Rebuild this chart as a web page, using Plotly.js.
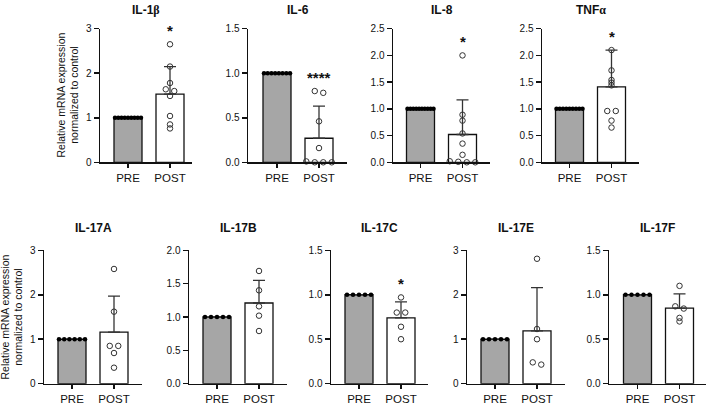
<!DOCTYPE html>
<html>
<head>
<meta charset="utf-8">
<script src="https://cdn.plot.ly/plotly-3.0.1.min.js"></script>
<style>
  html, body { margin: 0; padding: 0; background: #ffffff; }
  #chart { width: 708px; height: 404px; }
</style>
</head>
<body>
<div id="chart"></div>
<script>
// ---- data -----------------------------------------------------------
const groups = ['PRE', 'POST'];
const genes = ['IL-1β', 'IL-6', 'IL-8', 'TNFα', 'IL-17A', 'IL-17B', 'IL-17C', 'IL-17E', 'IL-17F'];

// PRE samples are the normalisation reference (all = 1)
const il1bPre  = [1, 1, 1, 1, 1, 1, 1, 1, 1];
const il6Pre   = [1, 1, 1, 1, 1, 1, 1, 1];
const il8Pre   = [1, 1, 1, 1, 1, 1, 1, 1, 1, 1];
const tnfaPre  = [1, 1, 1, 1, 1, 1, 1, 1, 1];
const il17aPre = [1, 1, 1, 1, 1, 1];
const il17bPre = [1, 1, 1, 1, 1];
const il17cPre = [1, 1, 1, 1, 1];
const il17ePre = [1, 1, 1, 1, 1];
const il17fPre = [1, 1, 1, 1, 1];

const il1bPost  = [2.65, 2.15, 1.78, 1.64, 1.60, 1.49, 1.04, 0.85, 0.76];
const il6Post   = [0.80, 0.78, 0.46, 0.16, 0.01, 0, 0, 0];
const il8Post   = [2.00, 0.89, 0.78, 0.54, 0.35, 0.14, 0.02, 0.01, 0, 0];
const tnfaPost  = [2.10, 1.72, 1.54, 1.49, 1.44, 0.96, 0.96, 0.78, 0.65];
const il17aPost = [2.58, 1.62, 0.85, 0.85, 0.69, 0.36];
const il17bPost = [1.69, 1.40, 1.16, 1.02, 0.79];
const il17cPost = [0.97, 0.80, 0.80, 0.64, 0.50];
const il17ePost = [2.81, 1.23, 1.00, 0.48, 0.43];
const il17fPost = [1.10, 0.87, 0.845, 0.74, 0.70];

const preMean  = [1, 1, 1, 1, 1, 1, 1, 1, 1];
const postMean = [1.53, 0.27, 0.52, 1.41, 1.16, 1.21, 0.74, 1.19, 0.85];
const postSd   = [0.62, 0.36, 0.65, 0.69, 0.81, 0.34, 0.18, 0.97, 0.16];

const significance = ['*', '****', '*', '*', '', '', '*', '', ''];

const yMax  = [3, 1.5, 2.5, 2.5, 3, 2, 1.5, 3, 1.5];
const yStep = [1, 0.5, 0.5, 0.5, 1, 0.5, 0.5, 1, 0.5];

const preSets  = [il1bPre, il6Pre, il8Pre, tnfaPre, il17aPre, il17bPre, il17cPre, il17ePre, il17fPre];
const postSets = [il1bPost, il6Post, il8Post, tnfaPost, il17aPost, il17bPost, il17cPost, il17ePost, il17fPost];

// ---- panel geometry (pixels) ----------------------------------------
const W = 708, H = 404;
const CAT_PX = 42;          // distance between PRE and POST centres
const boxes = [
  // left axis, PRE centre, right end, top, bottom
  { l: 100, c: 128,   r: 192, t: 28.7,  b: 162.3 },
  { l: 248, c: 277,   r: 347, t: 28.7,  b: 162.3 },
  { l: 393, c: 420.5, r: 490, t: 28.7,  b: 162.3 },
  { l: 542, c: 569.5, r: 639, t: 28.7,  b: 162.3 },
  { l: 44,  c: 72,    r: 142, t: 250.3, b: 383.7 },
  { l: 189, c: 217,   r: 287, t: 250.3, b: 383.7 },
  { l: 331, c: 359,   r: 428, t: 250.3, b: 383.7 },
  { l: 467, c: 495,   r: 565, t: 250.3, b: 383.7 },
  { l: 609, c: 637.5, r: 706, t: 250.3, b: 383.7 }
];

const FONT = 'Arial, "Liberation Sans", Helvetica, sans-serif';
const INK = '#111111';

// evenly spread dots along the bar top
function rowOffsets(n) {
  const s = n > 1 ? Math.min(6, 26 / (n - 1)) : 0;
  return Array.from({ length: n }, (_, j) => (j - (n - 1) / 2) * s);
}

// simple swarm: values closer than ~2.6 px sit side by side
function swarmOffsets(vals, pxPerUnit) {
  const idx = vals.map((v, i) => i).sort((a, b) => vals[b] - vals[a]);
  const off = new Array(vals.length).fill(0);
  let grp = [idx[0]];
  const flush = () => {
    const m = grp.length;
    grp.forEach((k, j) => { off[k] = (j - (m - 1) / 2) * 8.5; });
  };
  for (let i = 1; i < idx.length; i++) {
    const prev = vals[grp[grp.length - 1]];
    if ((prev - vals[idx[i]]) * pxPerUnit < 2.6) grp.push(idx[i]);
    else { flush(); grp = [idx[i]]; }
  }
  flush();
  return off;
}

const traces = [];
const layout = {
  width: W, height: H,
  margin: { l: 0, r: 0, t: 0, b: 0 },
  paper_bgcolor: '#ffffff', plot_bgcolor: '#ffffff',
  showlegend: false,
  font: { family: FONT, color: INK },
  annotations: []
};

genes.forEach((gene, i) => {
  const k = i + 1;
  const xa = 'x' + (k === 1 ? '' : k), ya = 'y' + (k === 1 ? '' : k);
  const box = boxes[i];
  const pxPerUnit = (box.b - box.t) / yMax[i];

  traces.push({
    type: 'bar', xaxis: xa, yaxis: ya,
    x: [0, 1], y: [preMean[i], postMean[i]],
    width: 28 / CAT_PX,
    marker: { color: ['#a6a6a6', '#ffffff'], line: { color: INK, width: 1.3 } },
    error_y: {
      type: 'data', symmetric: false,
      array: [null, postSd[i]], arrayminus: [null, 0],
      color: '#333333', thickness: 1.3, width: 6
    },
    hoverinfo: 'skip'
  });

  const pre = preSets[i];
  const preOff = rowOffsets(pre.length);
  traces.push({
    type: 'scatter', mode: 'markers', xaxis: xa, yaxis: ya, cliponaxis: false,
    x: pre.map((v, j) => 0 + preOff[j] / CAT_PX), y: pre,
    marker: { color: '#000000', size: 4.5 },
    hoverinfo: 'skip'
  });

  const post = postSets[i];
  const postOff = swarmOffsets(post, pxPerUnit);
  traces.push({
    type: 'scatter', mode: 'markers', xaxis: xa, yaxis: ya, cliponaxis: false,
    x: post.map((v, j) => 1 + postOff[j] / CAT_PX), y: post,
    marker: { symbol: 'circle-open', color: '#333333', size: 5.5, line: { width: 1 } },
    hoverinfo: 'skip'
  });

  layout['xaxis' + (k === 1 ? '' : k)] = {
    domain: [box.l / W, box.r / W],
    range: [(box.l - box.c) / CAT_PX, (box.r - box.c) / CAT_PX],
    anchor: ya,
    tickvals: [0, 1], ticktext: groups,
    ticks: 'outside', ticklen: 4, tickwidth: 1.5, tickcolor: INK,
    showline: true, linewidth: 1.5, linecolor: INK,
    showgrid: false, zeroline: false, fixedrange: true,
    tickfont: { family: FONT, size: 11.5, color: INK }
  };
  layout['yaxis' + (k === 1 ? '' : k)] = {
    domain: [1 - box.b / H, 1 - box.t / H],
    range: [0, yMax[i]],
    anchor: xa,
    dtick: yStep[i], tick0: 0,
    tickformat: yStep[i] < 1 ? '.1f' : 'd',
    ticks: 'outside', ticklen: 5, tickwidth: 1.5, tickcolor: INK,
    showline: true, linewidth: 1.5, linecolor: INK,
    showgrid: false, zeroline: false, fixedrange: true,
    tickfont: { family: FONT, size: 10, color: INK }
  };

  // panel title
  const gTitle = gene.replace(/([βα])/, '<span style="font-family:\'Liberation Serif\', serif">$1</span>');
  layout.annotations.push({
    xref: 'paper', yref: 'paper',
    x: (box.l + box.r) / 2 / W, y: 1 - (i < 4 ? 9.5 : 228) / H,
    text: '<b>' + gTitle + '</b>', showarrow: false,
    xanchor: 'center', yanchor: 'middle',
    font: { family: FONT, size: 12, color: INK }
  });

  // significance marker above the POST group
  if (significance[i]) {
    const top = Math.max(Math.max(...post), postMean[i] + postSd[i]);
    layout.annotations.push({
      xref: xa, yref: ya, x: 1, y: top,
      text: '<b>' + significance[i] + '</b>', showarrow: false,
      xanchor: 'center', yanchor: 'middle', yshift: 14,
      font: { family: FONT, size: 15, color: INK }
    });
  }
});

// shared y-axis caption for each row
const yCaption = 'Relative mRNA expression<br>normalized to control';
[[67.5, 95], [11.5, 317]].forEach(([px, py]) => {
  layout.annotations.push({
    xref: 'paper', yref: 'paper', x: px / W, y: 1 - py / H,
    text: yCaption, showarrow: false, textangle: -90,
    xanchor: 'center', yanchor: 'middle',
    font: { family: FONT, size: 10.5, color: INK }
  });
});

Plotly.newPlot('chart', traces, layout, { staticPlot: true, displayModeBar: false });
</script>
</body>
</html>
